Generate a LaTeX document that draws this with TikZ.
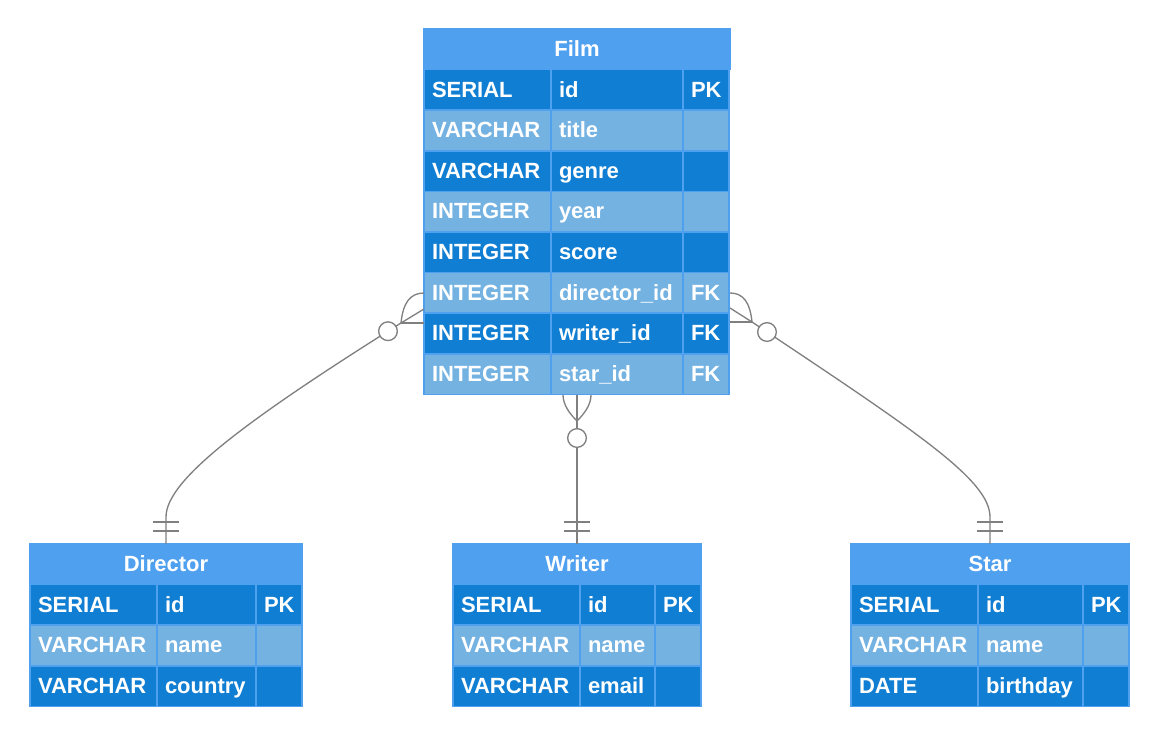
\documentclass[tikz,border=0pt]{standalone}
\usepackage{fontspec}
\setmainfont{Liberation Sans}
\usepackage{xcolor}
\hyphenpenalty=10000
\definecolor{hdrblue}{RGB}{80,160,240}
\definecolor{rowdark}{RGB}{16,126,210}
\definecolor{rowlight}{RGB}{116,178,226}
\definecolor{linegray}{RGB}{128,128,128}

\begin{document}
\begin{tikzpicture}[x=0.75pt,y=-0.75pt,
  font=\bfseries\fontsize{16.5}{19}\selectfont,
  cell/.style={draw=hdrblue,line width=1.1pt,text=white,anchor=north west,
    minimum height=30.45pt,inner xsep=6pt,inner ysep=0pt,outer sep=0pt,
    text height=10.8pt,text depth=0pt,align=left},
  hdr/.style={cell,fill=hdrblue,align=center},
  dk/.style={cell,fill=rowdark},
  lt/.style={cell,fill=rowlight},
  typecol/.style={text width=83.25pt},
  keycol/.style={text width=22.5pt},
  rel/.style={draw=linegray,line width=1pt},
  nub/.style={rel,fill=white}]
  \useasboundingbox (0,0) rectangle (1160,736);

  % Film
  \node[hdr,text width=217.5pt] (fhead) at (424,29) {Film};
  \node[dk,typecol] (f1a) at (fhead.south west) {SERIAL};
  \node[dk,text width=87pt] (f1b) at (f1a.north east) {id};
  \node[dk,keycol] (f1c) at (f1b.north east) {PK};
  \node[lt,typecol] (f2a) at (f1a.south west) {VARCHAR};
  \node[lt,text width=87pt] (f2b) at (f2a.north east) {title};
  \node[lt,keycol] (f2c) at (f2b.north east) {};
  \node[dk,typecol] (f3a) at (f2a.south west) {VARCHAR};
  \node[dk,text width=87pt] (f3b) at (f3a.north east) {genre};
  \node[dk,keycol] (f3c) at (f3b.north east) {};
  \node[lt,typecol] (f4a) at (f3a.south west) {INTEGER};
  \node[lt,text width=87pt] (f4b) at (f4a.north east) {year};
  \node[lt,keycol] (f4c) at (f4b.north east) {};
  \node[dk,typecol] (f5a) at (f4a.south west) {INTEGER};
  \node[dk,text width=87pt] (f5b) at (f5a.north east) {score};
  \node[dk,keycol] (f5c) at (f5b.north east) {};
  \node[lt,typecol] (f6a) at (f5a.south west) {INTEGER};
  \node[lt,text width=87pt] (f6b) at (f6a.north east) {director\_id};
  \node[lt,keycol] (f6c) at (f6b.north east) {FK};
  \node[dk,typecol] (f7a) at (f6a.south west) {INTEGER};
  \node[dk,text width=87pt] (f7b) at (f7a.north east) {writer\_id};
  \node[dk,keycol] (f7c) at (f7b.north east) {FK};
  \node[lt,typecol] (f8a) at (f7a.south west) {INTEGER};
  \node[lt,text width=87pt] (f8b) at (f8a.north east) {star\_id};
  \node[lt,keycol] (f8c) at (f8b.north east) {FK};

  % Director
  \node[hdr,text width=192pt] (dhead) at (30,544) {Director};
  \node[dk,typecol] (d1a) at (dhead.south west) {SERIAL};
  \node[dk,text width=62.25pt] (d1b) at (d1a.north east) {id};
  \node[dk,keycol] (d1c) at (d1b.north east) {PK};
  \node[lt,typecol] (d2a) at (d1a.south west) {VARCHAR};
  \node[lt,text width=62.25pt] (d2b) at (d2a.north east) {name};
  \node[lt,keycol] (d2c) at (d2b.north east) {};
  \node[dk,typecol] (d3a) at (d2a.south west) {VARCHAR};
  \node[dk,text width=62.25pt] (d3b) at (d3a.north east) {country};
  \node[dk,keycol] (d3c) at (d3b.north east) {};

  % Writer
  \node[hdr,text width=174pt] (whead) at (453,544) {Writer};
  \node[dk,typecol] (w1a) at (whead.south west) {SERIAL};
  \node[dk,text width=44.25pt] (w1b) at (w1a.north east) {id};
  \node[dk,keycol] (w1c) at (w1b.north east) {PK};
  \node[lt,typecol] (w2a) at (w1a.south west) {VARCHAR};
  \node[lt,text width=44.25pt] (w2b) at (w2a.north east) {name};
  \node[lt,keycol] (w2c) at (w2b.north east) {};
  \node[dk,typecol] (w3a) at (w2a.south west) {VARCHAR};
  \node[dk,text width=44.25pt] (w3b) at (w3a.north east) {email};
  \node[dk,keycol] (w3c) at (w3b.north east) {};

  % Star
  \node[hdr,text width=196.5pt] (shead) at (851,544) {Star};
  \node[dk,typecol] (s1a) at (shead.south west) {SERIAL};
  \node[dk,text width=66.75pt] (s1b) at (s1a.north east) {id};
  \node[dk,keycol] (s1c) at (s1b.north east) {PK};
  \node[lt,typecol] (s2a) at (s1a.south west) {VARCHAR};
  \node[lt,text width=66.75pt] (s2b) at (s2a.north east) {name};
  \node[lt,keycol] (s2c) at (s2b.north east) {};
  \node[dk,typecol] (s3a) at (s2a.south west) {DATE};
  \node[dk,text width=66.75pt] (s3b) at (s3a.north east) {birthday};
  \node[dk,keycol] (s3c) at (s3b.north east) {};

  % Film -- Director
  \coordinate (dfoot) at (401,323);
  \draw[rel] (dfoot) .. controls (245,421) and (166,480) .. (166,517) -- (dhead.north);
  \draw[rel] (dfoot) -- (424,323);
  \draw[rel] (dfoot) -- (424,309);
  \draw[rel] (dfoot) .. controls (403,303) and (410,293) .. (424,293);
  \draw[nub] (388,331.2) circle[radius=7pt];
  \draw[rel] ([xshift=-10pt,yshift=16.5pt]dhead.north) -- ([xshift=10pt,yshift=16.5pt]dhead.north);
  \draw[rel] ([xshift=-10pt,yshift=9.75pt]dhead.north) -- ([xshift=10pt,yshift=9.75pt]dhead.north);

  % Film -- Writer
  \coordinate (wfoot) at (577,421);
  \draw[rel] (wfoot) -- (whead.north);
  \draw[rel] (wfoot) -- (577,395);
  \draw[rel] (wfoot) .. controls (570,414) and (563,405) .. (563,395);
  \draw[rel] (wfoot) .. controls (584,414) and (591,405) .. (591,395);
  \draw[nub] (577,438) circle[radius=7pt];
  \draw[rel] ([xshift=-10pt,yshift=16.5pt]whead.north) -- ([xshift=10pt,yshift=16.5pt]whead.north);
  \draw[rel] ([xshift=-10pt,yshift=9.75pt]whead.north) -- ([xshift=10pt,yshift=9.75pt]whead.north);

  % Film -- Star
  \coordinate (sfoot) at (752,322);
  \draw[rel] (sfoot) .. controls (917,432) and (990,480) .. (990,517) -- (shead.north);
  \draw[rel] (sfoot) -- (730,322);
  \draw[rel] (sfoot) -- (730,308);
  \draw[rel] (sfoot) .. controls (750,302) and (743,293) .. (730,293);
  \draw[nub] (767,332) circle[radius=7pt];
  \draw[rel] ([xshift=-10pt,yshift=16.5pt]shead.north) -- ([xshift=10pt,yshift=16.5pt]shead.north);
  \draw[rel] ([xshift=-10pt,yshift=9.75pt]shead.north) -- ([xshift=10pt,yshift=9.75pt]shead.north);
\end{tikzpicture}
\end{document}
